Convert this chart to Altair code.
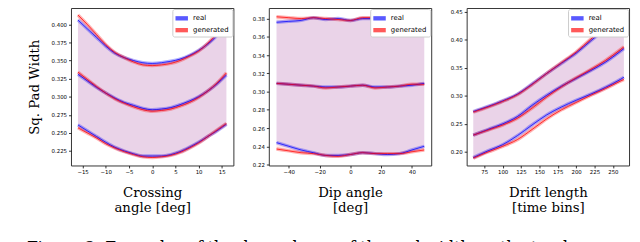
import altair as alt
import pandas as pd

SERIES = ["real", "generated"]
COLORS = ["#0000ff", "#ff0000"]

# Panel 1: crossing angle [deg]
cross_x = [-16, -14, -12, -10, -8, -6, -4, -2, 0, 2, 4, 6, 8, 10, 12, 14, 16]
cross_real_upper = [0.406, 0.394, 0.382, 0.370, 0.360, 0.354, 0.350, 0.347, 0.346, 0.347, 0.349, 0.352, 0.357, 0.364, 0.373, 0.385, 0.404]
cross_real_mid = [0.331, 0.322, 0.313, 0.305, 0.298, 0.292, 0.288, 0.284, 0.282, 0.283, 0.285, 0.289, 0.294, 0.300, 0.308, 0.318, 0.330]
cross_real_lower = [0.261, 0.253, 0.245, 0.237, 0.230, 0.225, 0.221, 0.218, 0.218, 0.218, 0.220, 0.224, 0.230, 0.237, 0.245, 0.253, 0.262]
cross_gen_upper = [0.413, 0.400, 0.386, 0.372, 0.361, 0.354, 0.348, 0.344, 0.343, 0.344, 0.346, 0.350, 0.356, 0.363, 0.374, 0.388, 0.409]
cross_gen_mid = [0.334, 0.324, 0.314, 0.305, 0.297, 0.291, 0.286, 0.282, 0.280, 0.281, 0.283, 0.287, 0.292, 0.299, 0.308, 0.319, 0.333]
cross_gen_lower = [0.257, 0.250, 0.243, 0.235, 0.229, 0.224, 0.220, 0.217, 0.216, 0.217, 0.219, 0.223, 0.229, 0.236, 0.245, 0.254, 0.263]
cross_ticks = [-15, -10, -5, 0, 5, 10, 15]
cross_yticks = [0.225, 0.250, 0.275, 0.300, 0.325, 0.350, 0.375, 0.400]

# Panel 2: dip angle [deg]
dip_x = [-48, -40, -32, -24, -16, -8, 0, 8, 16, 24, 32, 40, 48]
dip_real_upper = [0.376, 0.377, 0.378, 0.381, 0.379, 0.380, 0.378, 0.380, 0.380, 0.378, 0.377, 0.379, 0.380]
dip_real_mid = [0.309, 0.308, 0.307, 0.306, 0.305, 0.305, 0.306, 0.307, 0.305, 0.305, 0.306, 0.307, 0.309]
dip_real_lower = [0.244, 0.240, 0.236, 0.233, 0.230, 0.230, 0.231, 0.233, 0.232, 0.231, 0.232, 0.236, 0.240]
dip_gen_upper = [0.382, 0.381, 0.380, 0.381, 0.380, 0.379, 0.378, 0.381, 0.381, 0.379, 0.379, 0.380, 0.382]
dip_gen_mid = [0.309, 0.308, 0.307, 0.306, 0.304, 0.305, 0.306, 0.307, 0.304, 0.305, 0.306, 0.308, 0.308]
dip_gen_lower = [0.237, 0.235, 0.233, 0.232, 0.230, 0.229, 0.231, 0.233, 0.232, 0.232, 0.232, 0.234, 0.236]
dip_ticks = [-40, -20, 0, 20, 40]
dip_yticks = [0.22, 0.24, 0.26, 0.28, 0.30, 0.32, 0.34, 0.36, 0.38]

# Panel 3: drift length [time bins]
drift_x = [60, 80, 100, 120, 140, 160, 180, 200, 220, 240, 260, 265]
drift_real_upper = [0.272, 0.281, 0.291, 0.303, 0.321, 0.340, 0.358, 0.376, 0.398, 0.419, 0.438, 0.442]
drift_real_mid = [0.230, 0.240, 0.250, 0.263, 0.283, 0.301, 0.317, 0.331, 0.345, 0.360, 0.379, 0.384]
drift_real_lower = [0.190, 0.202, 0.213, 0.229, 0.248, 0.266, 0.280, 0.292, 0.303, 0.315, 0.329, 0.333]
drift_gen_upper = [0.271, 0.280, 0.290, 0.302, 0.320, 0.340, 0.359, 0.378, 0.401, 0.423, 0.442, 0.446]
drift_gen_mid = [0.230, 0.239, 0.248, 0.260, 0.278, 0.298, 0.316, 0.332, 0.347, 0.363, 0.382, 0.387]
drift_gen_lower = [0.189, 0.200, 0.210, 0.222, 0.240, 0.259, 0.275, 0.288, 0.301, 0.313, 0.326, 0.329]
drift_ticks = [75, 100, 125, 150, 175, 200, 225, 250]
drift_yticks = [0.20, 0.25, 0.30, 0.35, 0.40, 0.45]

W, H = 165, 160

AXIS_STYLE = dict(
    domain=False, grid=False, labelOverlap=False, labelFlush=False, labelBound=False,
    labelFont="DejaVu Sans", labelFontSize=5.5, labelColor="black",
    tickColor="black", tickSize=2.5, tickWidth=0.8,
    titleFont="DejaVu Serif", titleFontSize=13.5, titleFontWeight="normal",
    titleColor="black",
)


def frames(x, ru, rm, rl, gu, gm, gl):
    rows = []
    for s, (u, m, l) in zip(SERIES, [(ru, rm, rl), (gu, gm, gl)]):
        for xi, ui, mi, li in zip(x, u, m, l):
            rows.append(dict(x=xi, series=s, upper=ui, mid=mi, lower=li))
    wide = pd.DataFrame(rows)
    long = wide.melt(id_vars=["x", "series"], value_vars=["upper", "mid", "lower"],
                     var_name="curve", value_name="v")
    long["key"] = long["series"] + "_" + long["curve"]
    return wide, long


def panel(x, ru, rm, rl, gu, gm, gl, xdom, ydom, xticks, yticks, yfmt, xtitle, ytitle):
    wide, long = frames(x, ru, rm, rl, gu, gm, gl)
    xs = alt.Scale(domain=xdom, nice=False, zero=False)
    ys = alt.Scale(domain=ydom, nice=False, zero=False)
    cscale = alt.Scale(domain=SERIES, range=COLORS)
    xaxis = alt.Axis(values=xticks, title=xtitle, format="d", titlePadding=11,
                     titleLineHeight=15.5, labelPadding=1.5, **AXIS_STYLE)
    if ytitle:
        yaxis = alt.Axis(values=yticks, format=yfmt, title=ytitle, titlePadding=10,
                         labelPadding=2, **AXIS_STYLE)
    else:
        yaxis = alt.Axis(values=yticks, format=yfmt, title=None, labelPadding=2, **AXIS_STYLE)
    legend = alt.Legend(title=None, orient="top-right", offset=1,
                        symbolType="M-1,-0.35H1V0.35H-1Z", symbolSize=160,
                        symbolOpacity=0.65, symbolStrokeWidth=0,
                        labelFont="DejaVu Sans", labelFontSize=7, labelColor="black",
                        fillColor="white", strokeColor="#cccccc", padding=3,
                        cornerRadius=2, rowPadding=2, labelOffset=5)
    fill = alt.Chart(wide).mark_area(opacity=0.09).encode(
        x=alt.X("x:Q", scale=xs, axis=xaxis),
        y=alt.Y("lower:Q", scale=ys, axis=yaxis),
        y2="upper:Q",
        color=alt.Color("series:N", scale=cscale, legend=legend, sort=SERIES),
        order=alt.Order("series:N"),
    )
    thick = alt.Chart(long).mark_line(strokeWidth=3.5, opacity=0.3, interpolate="monotone").encode(
        x=alt.X("x:Q", scale=xs, axis=xaxis),
        y=alt.Y("v:Q", scale=ys, axis=yaxis),
        color=alt.Color("series:N", scale=cscale, legend=None),
        detail="key:N",
    )
    thin = alt.Chart(long).mark_line(strokeWidth=1, opacity=0.75, interpolate="monotone").encode(
        x=alt.X("x:Q", scale=xs, axis=xaxis),
        y=alt.Y("v:Q", scale=ys, axis=yaxis),
        color=alt.Color("series:N", scale=cscale, legend=None),
        detail="key:N",
    )
    return alt.layer(fill, thick, thin).properties(width=W, height=H)


p1 = panel(cross_x, cross_real_upper, cross_real_mid, cross_real_lower,
           cross_gen_upper, cross_gen_mid, cross_gen_lower,
           [-17.5, 17.5], [0.205, 0.4226], cross_ticks, cross_yticks, ".3f",
           ["Crossing", "angle [deg]"], "Sq. Pad Width")
p2 = panel(dip_x, dip_real_upper, dip_real_mid, dip_real_lower,
           dip_gen_upper, dip_gen_mid, dip_gen_lower,
           [-53, 52.5], [0.219, 0.3916], dip_ticks, dip_yticks, ".2f",
           ["Dip angle", "[deg]"], None)
p3 = panel(drift_x, drift_real_upper, drift_real_mid, drift_real_lower,
           drift_gen_upper, drift_gen_mid, drift_gen_lower,
           [51, 272], [0.176, 0.4563], drift_ticks, drift_yticks, ".2f",
           ["Drift length", "[time bins]"], None)

chart = alt.hconcat(p1, p2, p3, spacing=36, bounds="flush").resolve_scale(
    color="independent", x="independent", y="independent"
).resolve_legend(color="independent").properties(
    padding={"left": 19, "top": -4, "right": 0, "bottom": 0},
    title=alt.TitleParams(
        "Figure 3:    Examples of the dependence of the pad width on the track",
        orient="bottom", anchor="start", font="DejaVu Serif", fontSize=16,
        fontWeight="normal", color="black", offset=26),
).configure_view(
    stroke="#333333", strokeWidth=1
)

chart.save("out.html", embed_options={"renderer": "svg", "actions": False})
